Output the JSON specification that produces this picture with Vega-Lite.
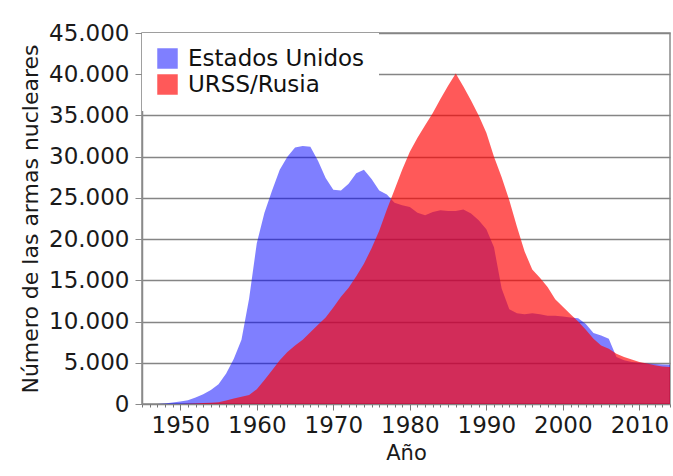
{
  "$schema": "https://vega.github.io/schema/vega-lite/v6.json",
  "width": 528,
  "height": 371,
  "autosize": {"type": "none"},
  "padding": {"left": 142, "top": 33, "right": 3, "bottom": 72},
  "background": "white",
  "config": {
    "font": "DejaVu Sans",
    "view": {"stroke": "#8a8a8a", "strokeWidth": 1.5},
    "axis": {"labelColor": "#1a1a1a", "titleColor": "#1a1a1a", "labelFont": "DejaVu Sans", "titleFont": "DejaVu Sans", "titleFontWeight": "normal"}
  },
  "data": {
    "values": [
      {"year": 1945, "country": "Estados Unidos", "n": 2},
      {"year": 1946, "country": "Estados Unidos", "n": 9},
      {"year": 1947, "country": "Estados Unidos", "n": 13},
      {"year": 1948, "country": "Estados Unidos", "n": 50},
      {"year": 1949, "country": "Estados Unidos", "n": 170},
      {"year": 1950, "country": "Estados Unidos", "n": 300},
      {"year": 1951, "country": "Estados Unidos", "n": 450},
      {"year": 1952, "country": "Estados Unidos", "n": 800},
      {"year": 1953, "country": "Estados Unidos", "n": 1170},
      {"year": 1954, "country": "Estados Unidos", "n": 1700},
      {"year": 1955, "country": "Estados Unidos", "n": 2400},
      {"year": 1956, "country": "Estados Unidos", "n": 3700},
      {"year": 1957, "country": "Estados Unidos", "n": 5500},
      {"year": 1958, "country": "Estados Unidos", "n": 7800},
      {"year": 1959, "country": "Estados Unidos", "n": 12800},
      {"year": 1960, "country": "Estados Unidos", "n": 19500},
      {"year": 1961, "country": "Estados Unidos", "n": 23200},
      {"year": 1962, "country": "Estados Unidos", "n": 25900},
      {"year": 1963, "country": "Estados Unidos", "n": 28400},
      {"year": 1964, "country": "Estados Unidos", "n": 30000},
      {"year": 1965, "country": "Estados Unidos", "n": 31100},
      {"year": 1966, "country": "Estados Unidos", "n": 31300},
      {"year": 1967, "country": "Estados Unidos", "n": 31200},
      {"year": 1968, "country": "Estados Unidos", "n": 29500},
      {"year": 1969, "country": "Estados Unidos", "n": 27400},
      {"year": 1970, "country": "Estados Unidos", "n": 26000},
      {"year": 1971, "country": "Estados Unidos", "n": 25900},
      {"year": 1972, "country": "Estados Unidos", "n": 26700},
      {"year": 1973, "country": "Estados Unidos", "n": 28000},
      {"year": 1974, "country": "Estados Unidos", "n": 28400},
      {"year": 1975, "country": "Estados Unidos", "n": 27300},
      {"year": 1976, "country": "Estados Unidos", "n": 25900},
      {"year": 1977, "country": "Estados Unidos", "n": 25400},
      {"year": 1978, "country": "Estados Unidos", "n": 24400},
      {"year": 1979, "country": "Estados Unidos", "n": 24100},
      {"year": 1980, "country": "Estados Unidos", "n": 23900},
      {"year": 1981, "country": "Estados Unidos", "n": 23200},
      {"year": 1982, "country": "Estados Unidos", "n": 22900},
      {"year": 1983, "country": "Estados Unidos", "n": 23300},
      {"year": 1984, "country": "Estados Unidos", "n": 23500},
      {"year": 1985, "country": "Estados Unidos", "n": 23400},
      {"year": 1986, "country": "Estados Unidos", "n": 23400},
      {"year": 1987, "country": "Estados Unidos", "n": 23600},
      {"year": 1988, "country": "Estados Unidos", "n": 23100},
      {"year": 1989, "country": "Estados Unidos", "n": 22300},
      {"year": 1990, "country": "Estados Unidos", "n": 21200},
      {"year": 1991, "country": "Estados Unidos", "n": 19000},
      {"year": 1992, "country": "Estados Unidos", "n": 14000},
      {"year": 1993, "country": "Estados Unidos", "n": 11500},
      {"year": 1994, "country": "Estados Unidos", "n": 11000},
      {"year": 1995, "country": "Estados Unidos", "n": 10900},
      {"year": 1996, "country": "Estados Unidos", "n": 11000},
      {"year": 1997, "country": "Estados Unidos", "n": 10900},
      {"year": 1998, "country": "Estados Unidos", "n": 10700},
      {"year": 1999, "country": "Estados Unidos", "n": 10700},
      {"year": 2000, "country": "Estados Unidos", "n": 10600},
      {"year": 2001, "country": "Estados Unidos", "n": 10500},
      {"year": 2002, "country": "Estados Unidos", "n": 10400},
      {"year": 2003, "country": "Estados Unidos", "n": 9700},
      {"year": 2004, "country": "Estados Unidos", "n": 8600},
      {"year": 2005, "country": "Estados Unidos", "n": 8300},
      {"year": 2006, "country": "Estados Unidos", "n": 7900},
      {"year": 2007, "country": "Estados Unidos", "n": 5700},
      {"year": 2008, "country": "Estados Unidos", "n": 5300},
      {"year": 2009, "country": "Estados Unidos", "n": 5100},
      {"year": 2010, "country": "Estados Unidos", "n": 5000},
      {"year": 2011, "country": "Estados Unidos", "n": 4900},
      {"year": 2012, "country": "Estados Unidos", "n": 4850},
      {"year": 2013, "country": "Estados Unidos", "n": 4800},
      {"year": 2014, "country": "Estados Unidos", "n": 4750},
      {"year": 1949, "country": "URSS/Rusia", "n": 1},
      {"year": 1950, "country": "URSS/Rusia", "n": 5},
      {"year": 1951, "country": "URSS/Rusia", "n": 25},
      {"year": 1952, "country": "URSS/Rusia", "n": 50},
      {"year": 1953, "country": "URSS/Rusia", "n": 120},
      {"year": 1954, "country": "URSS/Rusia", "n": 150},
      {"year": 1955, "country": "URSS/Rusia", "n": 200},
      {"year": 1956, "country": "URSS/Rusia", "n": 426},
      {"year": 1957, "country": "URSS/Rusia", "n": 660},
      {"year": 1958, "country": "URSS/Rusia", "n": 869},
      {"year": 1959, "country": "URSS/Rusia", "n": 1100},
      {"year": 1960, "country": "URSS/Rusia", "n": 1800},
      {"year": 1961, "country": "URSS/Rusia", "n": 2900},
      {"year": 1962, "country": "URSS/Rusia", "n": 4100},
      {"year": 1963, "country": "URSS/Rusia", "n": 5300},
      {"year": 1964, "country": "URSS/Rusia", "n": 6300},
      {"year": 1965, "country": "URSS/Rusia", "n": 7100},
      {"year": 1966, "country": "URSS/Rusia", "n": 7800},
      {"year": 1967, "country": "URSS/Rusia", "n": 8700},
      {"year": 1968, "country": "URSS/Rusia", "n": 9600},
      {"year": 1969, "country": "URSS/Rusia", "n": 10500},
      {"year": 1970, "country": "URSS/Rusia", "n": 11700},
      {"year": 1971, "country": "URSS/Rusia", "n": 13000},
      {"year": 1972, "country": "URSS/Rusia", "n": 14100},
      {"year": 1973, "country": "URSS/Rusia", "n": 15500},
      {"year": 1974, "country": "URSS/Rusia", "n": 17000},
      {"year": 1975, "country": "URSS/Rusia", "n": 18900},
      {"year": 1976, "country": "URSS/Rusia", "n": 21000},
      {"year": 1977, "country": "URSS/Rusia", "n": 23600},
      {"year": 1978, "country": "URSS/Rusia", "n": 26000},
      {"year": 1979, "country": "URSS/Rusia", "n": 28400},
      {"year": 1980, "country": "URSS/Rusia", "n": 30600},
      {"year": 1981, "country": "URSS/Rusia", "n": 32300},
      {"year": 1982, "country": "URSS/Rusia", "n": 33800},
      {"year": 1983, "country": "URSS/Rusia", "n": 35300},
      {"year": 1984, "country": "URSS/Rusia", "n": 37000},
      {"year": 1985, "country": "URSS/Rusia", "n": 38600},
      {"year": 1986, "country": "URSS/Rusia", "n": 40100},
      {"year": 1987, "country": "URSS/Rusia", "n": 38500},
      {"year": 1988, "country": "URSS/Rusia", "n": 36800},
      {"year": 1989, "country": "URSS/Rusia", "n": 35000},
      {"year": 1990, "country": "URSS/Rusia", "n": 32900},
      {"year": 1991, "country": "URSS/Rusia", "n": 30000},
      {"year": 1992, "country": "URSS/Rusia", "n": 27500},
      {"year": 1993, "country": "URSS/Rusia", "n": 24700},
      {"year": 1994, "country": "URSS/Rusia", "n": 21500},
      {"year": 1995, "country": "URSS/Rusia", "n": 18500},
      {"year": 1996, "country": "URSS/Rusia", "n": 16300},
      {"year": 1997, "country": "URSS/Rusia", "n": 15300},
      {"year": 1998, "country": "URSS/Rusia", "n": 14200},
      {"year": 1999, "country": "URSS/Rusia", "n": 12700},
      {"year": 2000, "country": "URSS/Rusia", "n": 11800},
      {"year": 2001, "country": "URSS/Rusia", "n": 10900},
      {"year": 2002, "country": "URSS/Rusia", "n": 10000},
      {"year": 2003, "country": "URSS/Rusia", "n": 9000},
      {"year": 2004, "country": "URSS/Rusia", "n": 7900},
      {"year": 2005, "country": "URSS/Rusia", "n": 7100},
      {"year": 2006, "country": "URSS/Rusia", "n": 6700},
      {"year": 2007, "country": "URSS/Rusia", "n": 6100},
      {"year": 2008, "country": "URSS/Rusia", "n": 5700},
      {"year": 2009, "country": "URSS/Rusia", "n": 5400},
      {"year": 2010, "country": "URSS/Rusia", "n": 5100},
      {"year": 2011, "country": "URSS/Rusia", "n": 4900},
      {"year": 2012, "country": "URSS/Rusia", "n": 4700},
      {"year": 2013, "country": "URSS/Rusia", "n": 4550},
      {"year": 2014, "country": "URSS/Rusia", "n": 4500}
    ]
  },
  "mark": {"type": "area", "interpolate": "linear"},
  "encoding": {
    "x": {
      "field": "year",
      "type": "quantitative",
      "scale": {"domain": [1945, 2014], "nice": false, "zero": false},
      "axis": {
        "title": "Año",
        "titleFontSize": 21,
        "titlePadding": 5,
        "labelFontSize": 23,
        "labelPadding": 4,
        "labelOverlap": false,
        "labelFlush": false,
        "grid": false,
        "domain": false,
        "tickColor": "#777",
        "tickWidth": 1,
        "tickSize": {"condition": {"test": "datum.value % 10 === 0", "value": 6}, "value": 3},
        "values": [1945,1946,1947,1948,1949,1950,1951,1952,1953,1954,1955,1956,1957,1958,1959,1960,1961,1962,1963,1964,1965,1966,1967,1968,1969,1970,1971,1972,1973,1974,1975,1976,1977,1978,1979,1980,1981,1982,1983,1984,1985,1986,1987,1988,1989,1990,1991,1992,1993,1994,1995,1996,1997,1998,1999,2000,2001,2002,2003,2004,2005,2006,2007,2008,2009,2010,2011,2012,2013,2014],
        "labelExpr": "datum.value % 10 === 0 ? '' + datum.value : ''"
      }
    },
    "y": {
      "field": "n",
      "type": "quantitative",
      "stack": null,
      "scale": {"domain": [0, 45000], "nice": false},
      "axis": {
        "title": "Número de las armas nucleares",
        "titleFontSize": 22,
        "titlePadding": 6,
        "labelFontSize": 23,
        "labelPadding": 6,
        "values": [0, 5000, 10000, 15000, 20000, 25000, 30000, 35000, 40000, 45000],
        "labelExpr": "replace(format(datum.value, ','), ',', '.')",
        "grid": true,
        "gridColor": "#858585",
        "gridWidth": 1.5,
        "domainColor": "#8a8a8a",
        "domainWidth": 1.5,
        "tickColor": "#8a8a8a",
        "tickSize": 7
      }
    },
    "color": {
      "field": "country",
      "type": "nominal",
      "scale": {"domain": ["Estados Unidos", "URSS/Rusia"], "range": ["rgba(0,0,255,0.5)", "rgba(255,0,0,0.65)"]},
      "legend": {
        "title": null,
        "orient": "none",
        "legendX": 0,
        "legendY": 0,
        "fillColor": "white",
        "padding": 14,
        "symbolType": "square",
        "symbolSize": 420,
        "symbolStrokeWidth": 0,
        "labelFontSize": 23,
        "labelLimit": 400,
        "labelColor": "#111",
        "labelOffset": 9,
        "rowPadding": 2
      }
    }
  }
}
